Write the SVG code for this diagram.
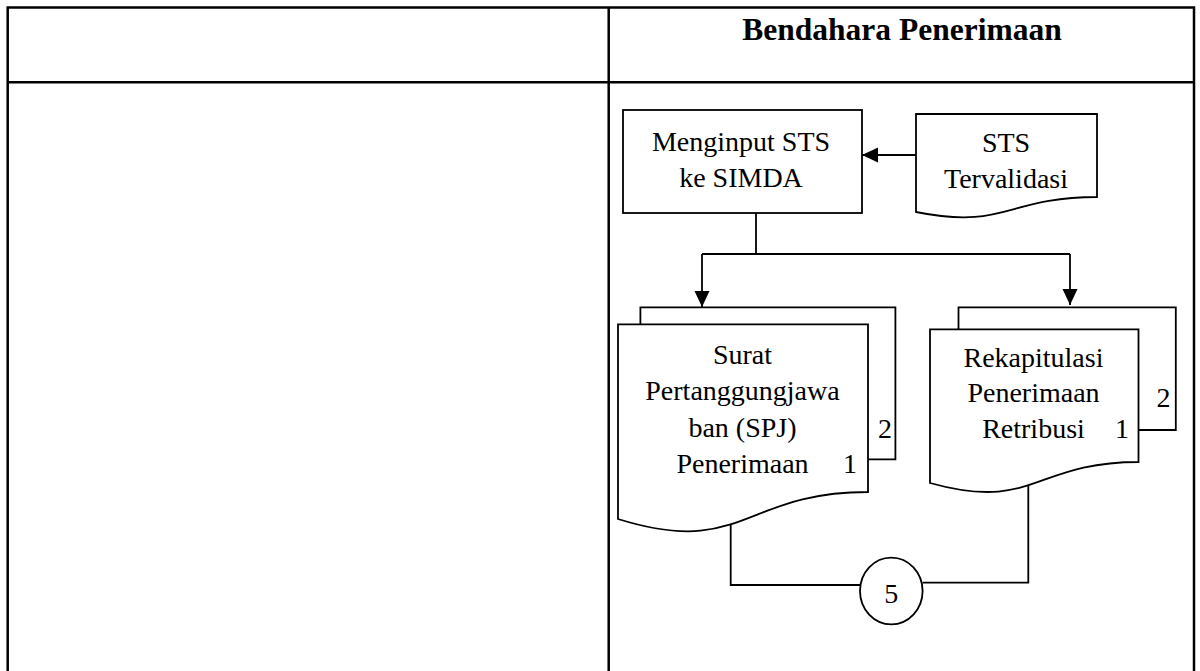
<svg xmlns="http://www.w3.org/2000/svg" width="1200" height="671" viewBox="0 0 1200 671">
  <style>
    .grid { stroke: #000; stroke-width: 2.5; fill: none; }
    .shape { stroke: #000; stroke-width: 1.8; fill: #fff; }
    .line { stroke: #000; stroke-width: 1.8; fill: none; }
    .lbl { font-family: "Liberation Serif", "Times New Roman", serif; font-size: 28px; fill: #000; text-anchor: middle; }
    .title { font-family: "Liberation Serif", "Times New Roman", serif; font-size: 31.5px; font-weight: bold; fill: #000; text-anchor: middle; }
  </style>
  <defs>
    <marker id="arrow" markerUnits="userSpaceOnUse" markerWidth="17" markerHeight="16" refX="16" refY="7.5" orient="auto">
      <path d="M0,0 L16,7.5 L0,15 z" fill="#000"/>
    </marker>
  </defs>

  <rect width="1200" height="671" fill="#fff"/>

  <!-- swimlane table -->
  <g id="table">
    <path class="grid" d="M7.7,680 V7.5 H1194 V680"/>
    <line class="grid" x1="7.7" y1="82.3" x2="1194" y2="82.3"/>
    <line class="grid" x1="608.7" y1="7.5" x2="608.7" y2="680"/>
    <text class="title" x="902" y="40">Bendahara Penerimaan</text>
  </g>

  <!-- connectors -->
  <g id="connectors">
    <line class="line" x1="916" y1="155" x2="862" y2="155" marker-end="url(#arrow)"/>
    <polyline class="line" points="756,213 756,254"/>
    <line class="line" x1="702" y1="254" x2="1070" y2="254"/>
    <line class="line" x1="702" y1="254" x2="702" y2="307" marker-end="url(#arrow)"/>
    <line class="line" x1="1070" y1="254" x2="1070" y2="305" marker-end="url(#arrow)"/>
    <polyline class="line" points="730.7,525 730.7,585 860,585"/>
    <polyline class="line" points="1028.3,485 1028.3,582.7 922.6,582.7"/>
  </g>

  <!-- process: Menginput STS ke SIMDA -->
  <g id="menginput">
    <rect class="shape" x="623" y="110" width="239" height="103"/>
    <text class="lbl" x="741" y="151">Menginput STS</text>
    <text class="lbl" x="741" y="187">ke SIMDA</text>
  </g>

  <!-- document: STS Tervalidasi -->
  <g id="sts-tervalidasi">
    <path class="shape" d="M916,114 H1097 V197 C1006,197 1006,230 916,212 Z"/>
    <text class="lbl" x="1006" y="152">STS</text>
    <text class="lbl" x="1006" y="188">Tervalidasi</text>
  </g>

  <!-- multi-document: SPJ Penerimaan -->
  <g id="spj-penerimaan">
    <path class="shape" d="M640.4,330 V307.3 H895.4 V459.3 H860 Z"/>
    <path class="shape" d="M618,324.3 H868 V492 C743,492 743,558 618,519 Z"/>
    <text class="lbl" x="742.5" y="364">Surat</text>
    <text class="lbl" x="742.5" y="400">Pertanggungjawa</text>
    <text class="lbl" x="742.5" y="437">ban (SPJ)</text>
    <text class="lbl" x="742.5" y="473">Penerimaan</text>
    <text class="lbl" x="850" y="473">1</text>
    <text class="lbl" x="885" y="438">2</text>
  </g>

  <!-- multi-document: Rekapitulasi Penerimaan Retribusi -->
  <g id="rekapitulasi">
    <path class="shape" d="M958.5,335 V307.3 H1175.8 V430 H1130 Z"/>
    <path class="shape" d="M930,329.3 H1138.5 V462 C1034,462 1034,512 930,483 Z"/>
    <text class="lbl" x="1033.5" y="367">Rekapitulasi</text>
    <text class="lbl" x="1033.5" y="402">Penerimaan</text>
    <text class="lbl" x="1033.5" y="438">Retribusi</text>
    <text class="lbl" x="1122" y="438">1</text>
    <text class="lbl" x="1163.5" y="407">2</text>
  </g>

  <!-- off-page connector 5 -->
  <g id="connector-5">
    <ellipse class="shape" cx="891.3" cy="591" rx="31.3" ry="33.3"/>
    <text class="lbl" x="891.3" y="602.7">5</text>
  </g>
</svg>
